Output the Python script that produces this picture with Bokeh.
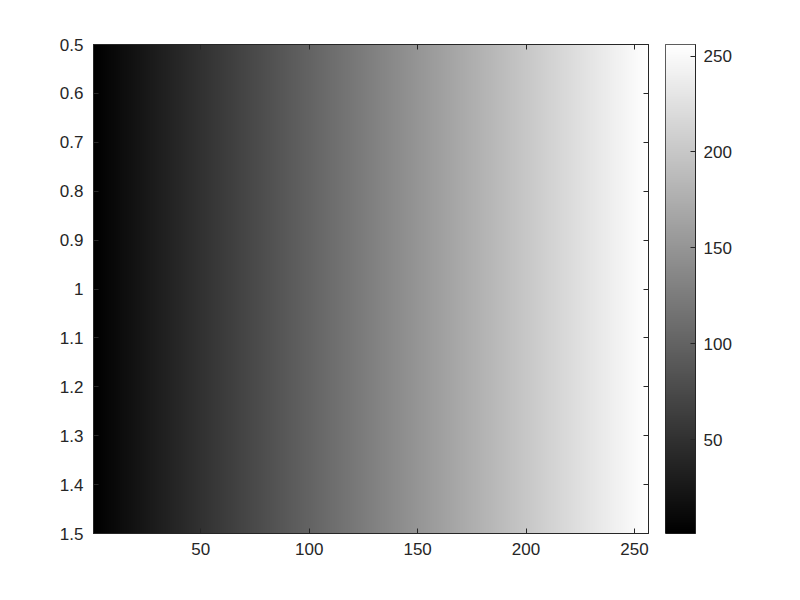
from bokeh.plotting import figure
from bokeh.models import (LinearColorMapper, FixedTicker, LinearAxis,
                          CustomJSTickFormatter)
from bokeh.layouts import row
from bokeh.palettes import gray
from bokeh.embed import file_html
from bokeh.resources import INLINE
import numpy as np

# imagesc(1:256) with the gray colormap
levels = list(range(1, 257))
x_ticks = [50, 100, 150, 200, 250]
y_ticks = [0.5, 0.6, 0.7, 0.8, 0.9, 1.0, 1.1, 1.2, 1.3, 1.4, 1.5]
cbar_ticks = [50, 100, 150, 200, 250]

FONT = "Liberation Sans"
FSIZE = "17px"
INK = "#262626"


def style_axis(ax, ticks, labels=True):
    ax.ticker = FixedTicker(ticks=ticks)
    ax.major_tick_in = 5
    ax.major_tick_out = 0
    ax.minor_tick_in = 0
    ax.minor_tick_out = 0
    ax.axis_line_color = INK
    ax.major_tick_line_color = INK
    ax.major_label_text_font = FONT
    ax.major_label_text_font_size = FSIZE
    ax.major_label_text_color = INK
    ax.major_label_standoff = 10
    if labels:
        ax.formatter = CustomJSTickFormatter(code="return String(Math.round(tick*10)/10)")
    else:
        ax.formatter = CustomJSTickFormatter(code="return ''")
        ax.major_label_standoff = 0


def main():
    mapper = LinearColorMapper(palette=gray(256), low=1, high=256)
    p = figure(frame_width=555, frame_height=489,
               x_range=(0.5, 256.5), y_range=(1.5, 0.5),
               output_backend="svg", toolbar_location=None,
               min_border_left=93, min_border_top=44,
               min_border_right=17, min_border_bottom=45)
    p.image(image=[np.array([levels])], x=0.5, y=0.5, dw=256, dh=1,
            color_mapper=mapper)
    p.grid.visible = False
    p.outline_line_color = INK
    p.border_fill_color = "white"

    style_axis(p.xaxis[0], x_ticks)
    p.xaxis[0].major_label_standoff = 9
    style_axis(p.yaxis[0], y_ticks)
    top = LinearAxis()
    style_axis(top, x_ticks, labels=False)
    p.add_layout(top, "above")
    right = LinearAxis()
    style_axis(right, y_ticks, labels=False)
    p.add_layout(right, "right")

    # colorbar drawn as its own narrow image
    cb = figure(frame_width=30, frame_height=489,
                x_range=(0, 1), y_range=(1, 256),
                x_axis_location=None, y_axis_location="right",
                output_backend="svg", toolbar_location=None,
                min_border_left=0, min_border_top=44,
                min_border_right=60, min_border_bottom=45)
    cb.image(image=[np.array(levels).reshape(256, 1)], x=0, y=1, dw=1, dh=255,
             color_mapper=mapper)
    cb.grid.visible = False
    cb.outline_line_color = INK
    cb.border_fill_color = "white"
    style_axis(cb.yaxis[0], cbar_ticks)
    cb.yaxis[0].major_label_standoff = 8

    open("out.html", "w").write(file_html(row(p, cb), INLINE))


if __name__ == '__main__':
    main()
